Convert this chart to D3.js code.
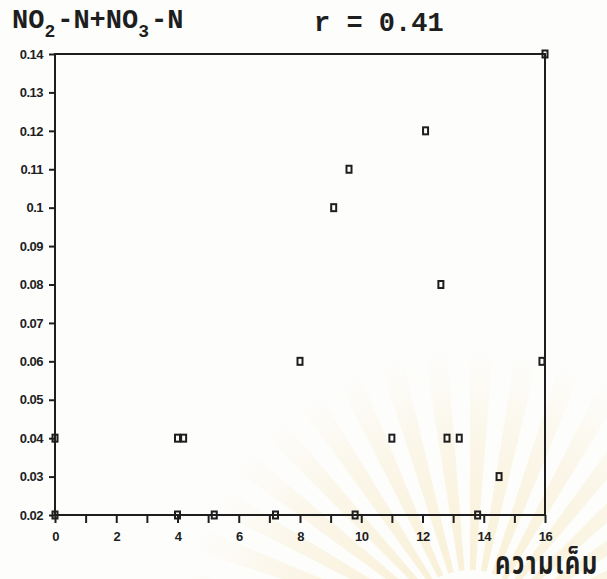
<!DOCTYPE html>
<html>
<head>
<meta charset="utf-8">
<script src="https://cdn.jsdelivr.net/npm/d3@7/dist/d3.min.js"></script>
<style>
  html, body { margin: 0; padding: 0; background: #fdfdfc; }
  svg { display: block; }
</style>
</head>
<body>
<svg id="chart" width="607" height="579"></svg>
<script>
// Salinity (x) versus NO2-N + NO3-N (y)
const salinity = [0, 0, 4.0, 4.2, 4.0, 5.2, 7.2, 8.0, 9.1, 9.6, 9.8, 11.0, 12.1, 12.6, 12.8, 13.2, 13.8, 14.5, 15.9, 16.0];
const nitrogen = [0.04, 0.02, 0.04, 0.04, 0.02, 0.02, 0.02, 0.06, 0.10, 0.11, 0.02, 0.04, 0.12, 0.08, 0.04, 0.04, 0.02, 0.03, 0.06, 0.14];

const xTickValues = [0, 1, 2, 3, 4, 5, 6, 7, 8, 9, 10, 11, 12, 13, 14, 15, 16];
const xTickLabels = ["0", "", "2", "", "4", "", "6", "", "8", "", "10", "", "12", "", "14", "", "16"];
const yTickValues = [0.02, 0.03, 0.04, 0.05, 0.06, 0.07, 0.08, 0.09, 0.10, 0.11, 0.12, 0.13, 0.14];
const yTickLabels = ["0.02", "0.03", "0.04", "0.05", "0.06", "0.07", "0.08", "0.09", "0.1", "0.11", "0.12", "0.13", "0.14"];

const svg = d3.select("#chart");
const ink = "#1e1e1e";

// faint seal watermark in the lower right
const sealX = 470, sealY = 640, rayCount = 40;
const defs = svg.append("defs");
const fade = defs.append("radialGradient")
  .attr("id", "rayFade").attr("gradientUnits", "userSpaceOnUse")
  .attr("cx", 0).attr("cy", 0).attr("r", 290);
fade.append("stop").attr("offset", "0.25").attr("stop-color", "#f3dfa6").attr("stop-opacity", 0.42);
fade.append("stop").attr("offset", "0.7").attr("stop-color", "#f3dfa6").attr("stop-opacity", 0.22);
fade.append("stop").attr("offset", "1").attr("stop-color", "#f3dfa6").attr("stop-opacity", 0);
const rayArc = d3.arc().innerRadius(70).outerRadius(290);
svg.append("g").attr("transform", `translate(${sealX},${sealY})`)
  .selectAll("path").data(d3.range(rayCount)).join("path")
  .attr("d", i => rayArc({startAngle: i * 2 * Math.PI / rayCount, endAngle: (i + 0.5) * 2 * Math.PI / rayCount}))
  .attr("fill", "url(#rayFade)");

const mLeft = 55, mRight = 545, mTop = 54, mBottom = 515;
const x = d3.scaleLinear().domain([0, 16]).range([mLeft, mRight]);
const y = d3.scaleLinear().domain([0.02, 0.14]).range([mBottom, mTop]);

// frame
svg.append("rect")
  .attr("x", mLeft).attr("y", mTop)
  .attr("width", mRight - mLeft).attr("height", mBottom - mTop)
  .attr("fill", "none").attr("stroke", ink).attr("stroke-width", 2);

const tickFont = g => g.selectAll("text")
  .attr("fill", ink)
  .style("font-family", "'Liberation Sans', Arial, sans-serif")
  .style("font-weight", "bold").style("font-size", "13px")
  .style("letter-spacing", "-0.5px");

// y axis
const gy = svg.append("g").attr("transform", `translate(${mLeft},0)`)
  .call(d3.axisLeft(y).tickValues(yTickValues)
    .tickFormat((d, i) => yTickLabels[i]).tickSize(6).tickPadding(6));
gy.select(".domain").remove();
gy.selectAll("line").attr("stroke", ink).attr("stroke-width", 2);
tickFont(gy);

// x axis
const gx = svg.append("g").attr("transform", `translate(0,${mBottom})`)
  .call(d3.axisBottom(x).tickValues(xTickValues)
    .tickFormat((d, i) => xTickLabels[i]).tickSize(8).tickPadding(9));
gx.select(".domain").remove();
gx.selectAll("line").attr("stroke", ink).attr("stroke-width", 2);
tickFont(gx);

// points
svg.append("g").selectAll("rect")
  .data(salinity.map((s, i) => [s, nitrogen[i]]))
  .join("rect")
  .attr("x", d => x(d[0]) - 2.5)
  .attr("y", d => y(d[1]) - 3.5)
  .attr("width", 5).attr("height", 7)
  .attr("fill", "none").attr("stroke", ink).attr("stroke-width", 2);

// title
const mono = "'Liberation Mono', 'DejaVu Sans Mono', monospace";
const title = svg.append("text")
  .attr("x", 12).attr("y", 28)
  .attr("fill", ink)
  .style("font-family", mono).style("font-weight", "bold").style("font-size", "27px");
title.append("tspan").text("NO");
title.append("tspan").attr("dy", 9).style("font-size", "18px").text("2");
title.append("tspan").attr("dx", 2).attr("dy", -9).text("-N+NO");
title.append("tspan").attr("dy", 9).style("font-size", "18px").text("3");
title.append("tspan").attr("dx", 2).attr("dy", -9).text("-N");

svg.append("text")
  .attr("x", 314).attr("y", 31)
  .attr("fill", ink)
  .style("font-family", mono)
  .style("font-weight", "bold").style("font-size", "27px")
  .text("r = 0.41");

// x axis title
svg.append("text")
  .attr("transform", "translate(495,574) scale(0.8,1.05)")
  .attr("fill", ink)
  .style("font-family", "'Noto Sans Thai', 'Loma', 'Garuda', 'Noto Sans', sans-serif")
  .style("font-weight", "bold").style("font-size", "30px")
  .style("letter-spacing", "2px")
  .text("ความเค็ม");
</script>
</body>
</html>
